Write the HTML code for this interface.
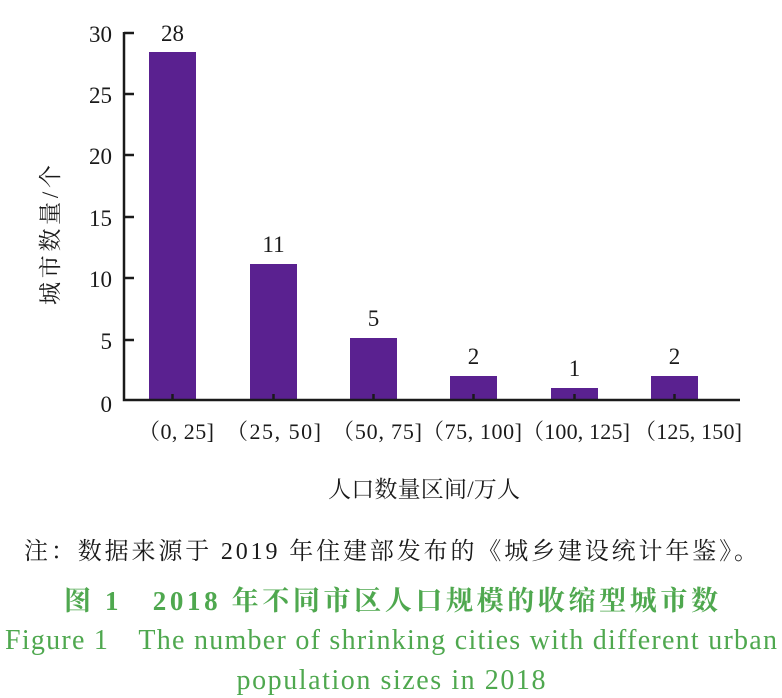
<!DOCTYPE html>
<html><head><meta charset="utf-8"><style>
html,body{margin:0;padding:0;background:#fff;}
svg{display:block;}
</style></head><body>
<svg width="782" height="698" viewBox="0 0 782 698" xmlns="http://www.w3.org/2000/svg" font-family="'Liberation Serif','Noto Serif CJK SC',serif">
<g fill="#5a2190">
<rect x="149" y="52" width="47" height="348"/>
<rect x="250" y="264" width="47" height="136"/>
<rect x="350" y="338" width="47" height="62"/>
<rect x="450" y="376" width="47" height="24"/>
<rect x="551" y="388" width="47" height="12"/>
<rect x="651" y="376" width="47" height="24"/>
</g>
<g stroke="#1a1a1a" stroke-width="2.5" fill="none">
<path d="M124 32 V400 H740"/>
<path d="M124 33 H134 M124 94 H134 M124 155 H134 M124 217 H134 M124 278 H134 M124 340 H134"/>
<path d="M172.5 394 V400 M273.5 394 V400 M373.5 394 V400 M473.5 394 V400 M574.5 394 V400 M674.5 394 V400"/>
</g>
<g font-size="23" fill="#1a1a1a" text-anchor="end">
<text x="112" y="42">30</text>
<text x="112" y="103">25</text>
<text x="112" y="164">20</text>
<text x="112" y="226">15</text>
<text x="112" y="287">10</text>
<text x="112" y="349">5</text>
<text x="112" y="412">0</text>
</g>
<g font-size="23" fill="#1a1a1a" text-anchor="middle">
<text x="172.5" y="41">28</text>
<text x="273.5" y="252">11</text>
<text x="373.5" y="326">5</text>
<text x="473.5" y="364">2</text>
<text x="574.5" y="376">1</text>
<text x="674.5" y="364">2</text>
</g>
<g font-size="22" fill="#1a1a1a">
<text x="138" y="439" textLength="76">（0, 25]</text>
<text x="226" y="439" textLength="95">（25, 50]</text>
<text x="332" y="439" textLength="90">（50, 75]</text>
<text x="422" y="439" textLength="100">（75, 100]</text>
<text x="522" y="439" textLength="108">（100, 125]</text>
<text x="634" y="439" textLength="108">（125, 150]</text>
</g>
<text x="424" y="497" font-size="23" text-anchor="middle" fill="#1a1a1a" textLength="192">人口数量区间/万人</text>
<text transform="translate(58,235) rotate(-90)" font-size="23" text-anchor="middle" fill="#1a1a1a" textLength="140">城市数量/个</text>
<text x="391" y="559" font-size="24" text-anchor="middle" fill="#1a1a1a" textLength="734">注：数据来源于 2019 年住建部发布的《城乡建设统计年鉴》。</text>
<text x="391" y="610" font-size="27" text-anchor="middle" fill="#4fa84f" font-weight="bold" textLength="654">图 1　2018 年不同市区人口规模的收缩型城市数</text>
<text x="391" y="649" font-size="28" text-anchor="middle" fill="#4fa84f" textLength="772">Figure 1　The number of shrinking cities with different urban</text>
<text x="391" y="689" font-size="28" text-anchor="middle" fill="#4fa84f" textLength="309">population sizes in 2018</text>
</svg>
</body></html>
